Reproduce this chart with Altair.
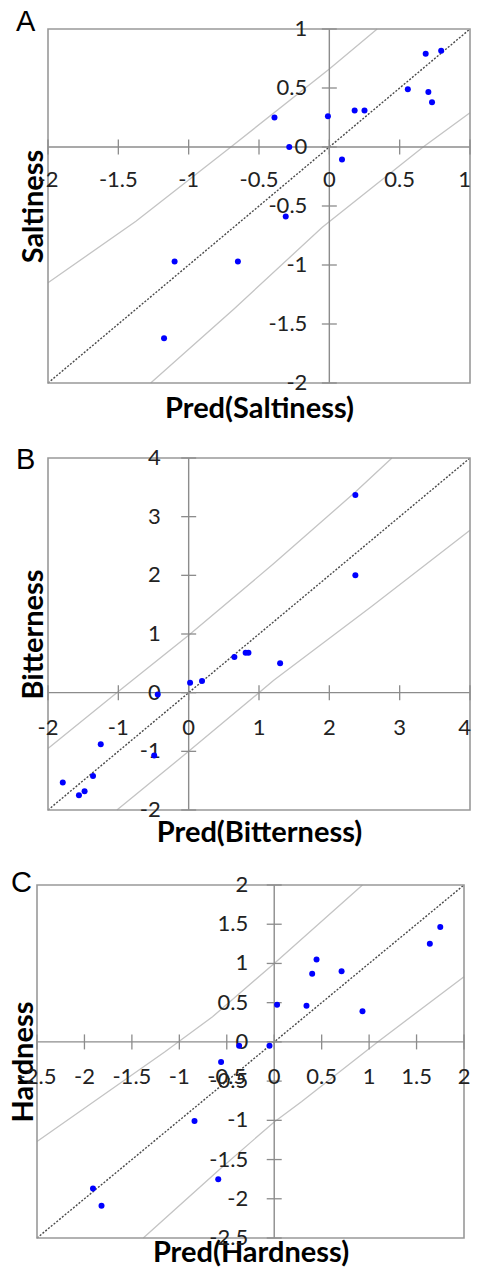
import altair as alt
import pandas as pd

# ---------------- Panel A : Saltiness ----------------
a_pred = [0.685, 0.795, 0.558, 0.704, 0.73, 0.18, 0.25, -0.01, -0.39, -0.285, 0.09, -0.31, -1.10, -0.65, -1.175]
a_act = [0.79, 0.815, 0.49, 0.466, 0.38, 0.31, 0.31, 0.26, 0.25, 0.0, -0.105, -0.59, -0.97, -0.97, -1.62]
a_up_x = [-2, -1.375, -0.70, 0, 0.34]
a_up_y = [-1.15, -0.63, 0, 0.66, 1.0]
a_lo_x = [-1.27, -0.68, -0.05, 0.667, 1]
a_lo_y = [-2, -1.375, -0.68, 0, 0.29]
a_xticks = [-2, -1.5, -1, -0.5, 0, 0.5, 1]
a_yticks = [-2, -1.5, -1, -0.5, 0, 0.5, 1]

# ---------------- Panel B : Bitterness ----------------
b_pred = [2.37, 2.37, 0.65, 0.81, 0.85, 1.30, 0.02, 0.19, -0.44, -1.25, -0.49, -1.79, -1.36, -1.56, -1.48]
b_act = [3.37, 2.0, 0.61, 0.68, 0.68, 0.50, 0.17, 0.20, -0.03, -0.88, -1.07, -1.53, -1.42, -1.75, -1.68]
b_up_x = [-2, -1, 0, 1.21, 2.37, 2.89]
b_up_y = [-0.95, 0.02, 0.98, 2.2, 3.42, 4.0]
b_lo_x = [-1.02, 0, 1.21, 2.6, 4]
b_lo_y = [-2, -1.0, 0.21, 1.47, 2.77]
b_xticks = [-2, -1, 0, 1, 2, 3, 4]
b_yticks = [-2, -1, 0, 1, 2, 3, 4]

# ---------------- Panel C : Hardness ----------------
c_pred = [1.75, 1.64, 0.446, 0.40, 0.71, 0.03, 0.34, 0.93, -0.37, -0.05, -0.56, -0.84, -0.59, -1.91, -1.82]
c_act = [1.465, 1.25, 1.05, 0.87, 0.90, 0.475, 0.46, 0.39, -0.05, -0.05, -0.255, -1.01, -1.75, -1.87, -2.09]
c_up_x = [-2.5, -1.155, -0.65, 0, 0.93]
c_up_y = [-1.27, -0.13, 0.32, 1.0, 2.0]
c_lo_x = [-1.38, -0.58, 0, 0.29, 1.09, 2]
c_lo_y = [-2.5, -1.63, -1.02, -0.76, 0, 0.83]
c_xticks = [-2.5, -2, -1.5, -1, -0.5, 0, 0.5, 1, 1.5, 2]
c_yticks = [-2.5, -2, -1.5, -1, -0.5, 0, 0.5, 1, 1.5, 2]


def fmt(v):
    return f"{v:g}"


def panel(letter, xdom, ydom, xticks, yticks, px, py, ux, uy, lx, ly,
          xtitle, ytitle, w, h, xrange, xlab_dy, ylab_dx, letter_dx, letter_dy,
          xt_pad, yt_pad, last_right):
    xs = alt.Scale(domain=xdom, nice=False, zero=False, range=xrange)
    ys = alt.Scale(domain=ydom, nice=False, zero=False)
    common = dict(labels=False, ticks=False, domain=False, grid=False,
                  titleFont="Lato", titleFontSize=29, titleFontWeight="bold",
                  titleColor="black")
    xax = alt.Axis(title=xtitle, titlePadding=xt_pad, **common)
    yax = alt.Axis(title=ytitle, titlePadding=yt_pad, **common)

    def X(f):
        return alt.X(f, type="quantitative", scale=xs, axis=xax)

    def Y(f):
        return alt.Y(f, type="quantitative", scale=ys, axis=yax)

    frame = pd.DataFrame({"x0": [xdom[0]], "x1": [xdom[1]], "y0": [ydom[0]], "y1": [ydom[1]]})
    frame_layer = alt.Chart(frame).mark_rect(
        fillOpacity=0, stroke="#999999", strokeWidth=1.6
    ).encode(X("x0"), x2="x1:Q", y=Y("y0"), y2="y1:Q")

    bands = pd.DataFrame({
        "x": ux + lx,
        "y": uy + ly,
        "band": ["upper"] * len(ux) + ["lower"] * len(lx),
        "ord": list(range(len(ux))) + list(range(len(lx))),
    })
    band_layer = alt.Chart(bands).mark_line(
        color="#c4c4c4", strokeWidth=1.3
    ).encode(X("x"), Y("y"), detail="band:N", order="ord:Q")

    diag = pd.DataFrame({"x": xdom, "y": ydom})
    diag_layer = alt.Chart(diag).mark_line(
        color="#4a4a4a", strokeDash=[2, 1.6], strokeWidth=1.4
    ).encode(X("x"), Y("y"))

    vz = pd.DataFrame({"v": [0], "a": [ydom[0]], "b": [ydom[1]]})
    hz = pd.DataFrame({"v": [0], "a": [xdom[0]], "b": [xdom[1]]})
    vrule = alt.Chart(vz).mark_rule(color="#8c8c8c", strokeWidth=1.4).encode(
        X("v"), y=Y("a"), y2="b:Q")
    hrule = alt.Chart(hz).mark_rule(color="#8c8c8c", strokeWidth=1.4).encode(
        Y("v"), x=X("a"), x2="b:Q")

    xt = pd.DataFrame({"v": xticks, "z": [0] * len(xticks), "lab": [fmt(v) for v in xticks]})
    yt = pd.DataFrame({"v": yticks, "z": [0] * len(yticks), "lab": [fmt(v) for v in yticks]})

    xtick_layer = alt.Chart(xt).mark_tick(
        orient="vertical", size=15, thickness=1.3, color="#8c8c8c", opacity=1
    ).encode(X("v"), Y("z"))
    ytick_layer = alt.Chart(yt).mark_tick(
        orient="horizontal", size=15, thickness=1.3, color="#8c8c8c", opacity=1
    ).encode(X("z"), Y("v"))

    text_style = dict(font="Lato", fontSize=22, color="#222222", baseline="middle")
    if last_right:
        xt_main, xt_last = xt.iloc[:-1], xt.iloc[-1:]
    else:
        xt_main, xt_last = xt, xt.iloc[0:0]
    xlab_layer = alt.Chart(xt_main).mark_text(
        dy=xlab_dy, align="center", **text_style
    ).encode(X("v"), Y("z"), text="lab:N")
    xlab_last = alt.Chart(xt_last).mark_text(
        dy=xlab_dy, align="right", dx=1, **text_style
    ).encode(X("v"), Y("z"), text="lab:N")
    ylab_layer = alt.Chart(yt).mark_text(
        dx=ylab_dx, align="right", **text_style
    ).encode(X("z"), Y("v"), text="lab:N")

    pts = pd.DataFrame({"x": px, "y": py})
    point_layer = alt.Chart(pts).mark_circle(
        color="#0000ff", size=36, opacity=1
    ).encode(X("x"), Y("y"))

    let = pd.DataFrame({"x": [xdom[0]], "y": [ydom[1]], "t": [letter]})
    letter_layer = alt.Chart(let).mark_text(
        dx=letter_dx, dy=letter_dy, align="left", baseline="alphabetic",
        font="Liberation Sans", fontSize=29, color="black"
    ).encode(X("x"), Y("y"), text="t:N")

    layers = [band_layer, diag_layer, vrule, hrule, frame_layer, xtick_layer,
              ytick_layer, xlab_layer, ylab_layer, point_layer, letter_layer]
    if last_right:
        layers.append(xlab_last)
    return alt.layer(*layers).properties(width=w, height=h)


pa = panel("A", [-2, 1], [-2, 1], a_xticks, a_yticks, a_pred, a_act,
           a_up_x, a_up_y, a_lo_x, a_lo_y, "Pred(Saltiness)", "Saltiness",
           422, 354, [0, 422], 33, -22, -32, 2, 11.7, 0, True)
pb = panel("B", [-2, 4], [-2, 4], b_xticks, b_yticks, b_pred, b_act,
           b_up_x, b_up_y, b_lo_x, b_lo_y, "Pred(Bitterness)", "Bitterness",
           422, 352, [0, 422], 35, -28, -32, 11, 8, 0, True)
pc = panel("C", [-2.5, 2], [-2.5, 2], c_xticks, c_yticks, c_pred, c_act,
           c_up_x, c_up_y, c_lo_x, c_lo_y, "Pred(Hardness)", "Hardness",
           405, 353, [-11, 416], 35, -26, -26, 7, 0, 10, False)

chart = alt.vconcat(
    pa, pb, pc, spacing=22
).properties(
    padding={"left": 1, "top": 0, "right": 0, "bottom": 0}
).configure_view(
    stroke=None
).configure_axis(grid=False)

chart.save("out.html", embed_options={"renderer": "svg", "actions": False})
